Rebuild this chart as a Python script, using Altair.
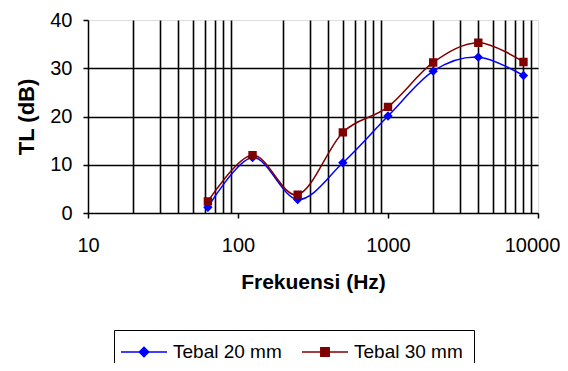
import altair as alt
import pandas as pd

# ---- data ----
freq = [63, 125, 250, 500, 1000, 2000, 4000, 8000]
tl_20mm = [1.2, 11.5, 2.8, 10.4, 20.1, 29.4, 32.3, 28.5]
tl_30mm = [2.4, 12.0, 3.8, 16.7, 22.0, 31.2, 35.3, 31.3]
series_names = ["Tebal 20 mm", "Tebal 30 mm"]
series_colors = ["#0000FF", "#800000"]
x_tick_values = [10, 100, 1000, 10000]
x_grid_values = [20, 30, 40, 50, 60, 70, 80, 90,
                 200, 300, 400, 500, 600, 700, 800, 900,
                 2000, 3000, 4000, 5000, 6000, 7000, 8000, 9000]
y_tick_values = [0, 10, 20, 30, 40]
y_grid_values = [10, 20, 30]

rows = []
for name, vals in zip(series_names, [tl_20mm, tl_30mm]):
    for f, v in zip(freq, vals):
        rows.append({"f": f, "tl": v, "series": name})
df = pd.DataFrame(rows)

FONT = "Liberation Sans"
# marker shapes (the horizontal bar only shows in the legend, where symbols are stroked)
shape_paths = [
    "M-2.3,0H2.3M0,-0.47L0.47,0L0,0.47L-0.47,0Z",
    "M-2.3,0H2.3M-0.42,-0.42H0.42V0.42H-0.42Z",
]

xscale = alt.Scale(type="log", domain=[10, 10000], nice=False)
yscale = alt.Scale(domain=[0, 40], nice=False, zero=True)
color_scale = alt.Scale(domain=series_names, range=series_colors)

legend = alt.Legend(
    title=None, orient="none", legendX=26, legendY=310, direction="horizontal",
    columns=2, padding=11, strokeColor="black", fillColor="white",
    labelFont=FONT, labelFontSize=19, labelColor="black", labelLimit=300,
    symbolSize=400, symbolStrokeWidth=1.5, symbolOffset=8, labelOffset=18,
    columnPadding=17, labelExpr="datum.label + '\u00a0\u00a0\u00a0\u00a0'",
)

grid_axis_x = alt.Axis(values=x_grid_values, grid=True, gridColor="black", gridWidth=1.6,
                       labels=False, ticks=False, domain=False, title=None, orient="bottom")
grid_axis_y = alt.Axis(values=y_grid_values, grid=True, gridColor="black", gridWidth=1.6,
                       labels=False, ticks=False, domain=False, title=None, orient="left")

main_axis_x = alt.Axis(values=x_tick_values, grid=False, orient="bottom",
                       title="Frekuensi (Hz)", titleFont=FONT, titleFontSize=21,
                       titleFontWeight="bold", titleColor="black", titlePadding=16,
                       labelFont=FONT, labelFontSize=20, labelColor="black",
                       labelPadding=17, tickColor="black", tickSize=5, tickWidth=1.5,
                       domainColor="black", domainWidth=1.5, format="d", labelFlush=False,
                       labelOverlap=False,
                       labelOffset=alt.condition("datum.value == 10000", alt.value(-6), alt.value(0)))
main_axis_y = alt.Axis(values=y_tick_values, grid=False, orient="left",
                       title="TL (dB)", titleFont=FONT, titleFontSize=22,
                       titleFontWeight="bold", titleColor="black", titlePadding=11,
                       labelFont=FONT, labelFontSize=20, labelColor="black",
                       labelPadding=11, tickColor="black", tickSize=5, tickWidth=1.5,
                       domainColor="black", domainWidth=1.5, labelFlush=False)

lines = alt.Chart(df).mark_line(interpolate="cardinal", strokeWidth=1.5).encode(
    x=alt.X("f:Q", scale=xscale, axis=grid_axis_x),
    y=alt.Y("tl:Q", scale=yscale, axis=grid_axis_y),
    stroke=alt.Stroke("series:N", scale=color_scale, legend=legend),
    detail="series:N",
)

points = alt.Chart(df).mark_point(filled=True, size=400, opacity=1).encode(
    x=alt.X("f:Q", scale=xscale, axis=main_axis_x),
    y=alt.Y("tl:Q", scale=yscale, axis=main_axis_y),
    fill=alt.Fill("series:N", scale=color_scale, legend=legend),
    shape=alt.Shape("series:N", scale=alt.Scale(domain=series_names, range=shape_paths),
                    legend=legend),
)

chart = alt.layer(lines, points).resolve_axis(x="independent", y="independent").properties(
    width=450, height=193,
    autosize=alt.AutoSizeParams(type="none"),
    padding={"left": 80, "top": 12, "right": 22, "bottom": 150},
).configure_view(fill="#C0C0C0", stroke="#808080", strokeWidth=1.5
).configure(background="white")

chart.save("out.html", embed_options={"renderer": "svg", "actions": False})
